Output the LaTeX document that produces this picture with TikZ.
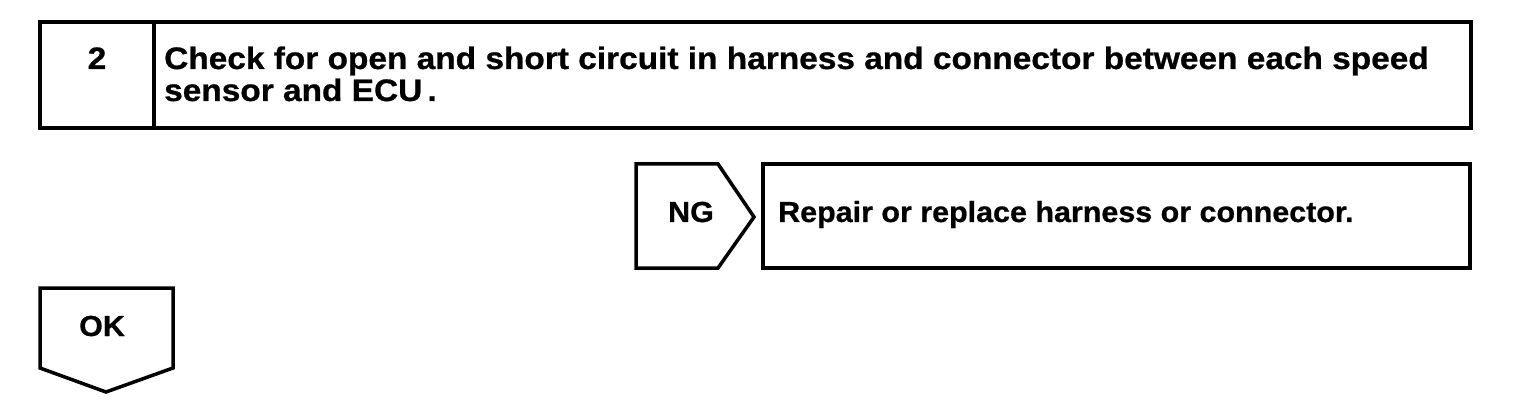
\documentclass[tikz,border=0pt]{standalone}
\usepackage{fontspec}
\setmainfont{Liberation Sans}
\newfontfamily\hvt[FakeStretch=1.078,FakeBold=0.8]{Liberation Sans Bold}
\newfontfamily\hvn[FakeStretch=1.05,FakeBold=0.8]{Liberation Sans Bold}
\begin{document}
\begin{tikzpicture}[x=1pt,y=-1pt,
  frame/.style={draw=black,line width=3.5pt,line join=miter},
  lbl/.style={font=\hvn\fontsize{29}{32}\selectfont,inner sep=0pt,text=black},
  ttl/.style={font=\hvt\fontsize{31}{32}\selectfont,inner sep=0pt,text=black}]
\useasboundingbox (0,0) rectangle (1520,406);
% step box
\draw[frame] (40,22) rectangle (1471,128);
\draw[frame] (154,22) -- (154,128);
\node[ttl,anchor=base] (num) at (97,69) {2};
\node[ttl,anchor=base west] (title) at (164,69)
  {Check for open and short circuit in harness and connector between each speed};
\node[ttl,anchor=base west] (title2) at (164,101)
  {sensor and ECU\,.};
% NG
\draw[frame] (636,164) -- (718,164) -- (754,217) -- (718,268) -- (636,268) -- cycle;
\node[lbl,anchor=base] (ng) at (691,222) {NG};
\draw[frame] (763,164) rectangle (1470,268);
\node[lbl,anchor=base west] (repair) at (778,222) {Repair or replace harness or connector.};
% OK
\draw[frame] (40,288) -- (173,288) -- (173,368) -- (106,392) -- (40,368) -- cycle;
\node[lbl,anchor=base] (ok) at (102,336) {OK};
\end{tikzpicture}
\end{document}
